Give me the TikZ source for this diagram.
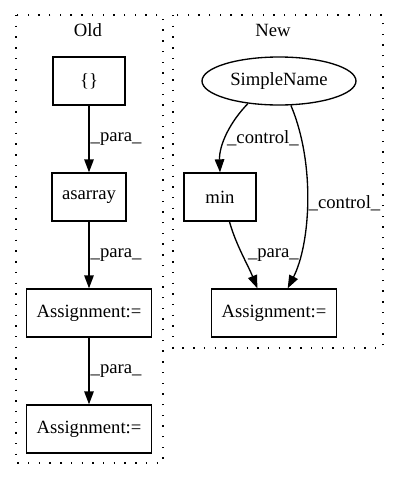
\documentclass[tikz,border=0pt]{standalone}
\usepackage{fontspec}
\setmainfont{Liberation Serif}
\usetikzlibrary{arrows.meta,shapes.geometric}
\begin{document}
\begin{tikzpicture}[
  x=1pt, y=-1pt,
  block/.style={rectangle, draw, minimum width=72pt, minimum height=48pt, inner xsep=10pt, line width=1.33pt},
  oval/.style={ellipse, draw, minimum width=154pt, minimum height=48pt, inner sep=0pt, line width=1.33pt},
  cluster/.style={draw, line width=1.33pt, dash pattern=on 1.4pt off 9.3pt},
  edge/.style={-{Triangle[length=13pt,width=9.5pt]}, line width=1.33pt},
  lbl/.style={anchor=west, inner sep=1pt},
  node distance=116pt,
  font=\fontsize{18.67}{22}\selectfont
]
\useasboundingbox (0,0) rectangle (400,480);

% clusters
\draw[cluster] (16,15) rectangle (163,463);
\draw[cluster] (173,15) rectangle (383,348);
\node (oldlbl) at (88,30) {Old};
\node (newlbl) at (273,30) {New};

% old
\node[block] (braces) at (89,81) {\{\}};
\node[block, below of=braces] (asarray) {asarray};
\node[block, below of=asarray] (asgA) {Assignment:=};
\node[block, below of=asgA] (asgB) {Assignment:=};

% new
\node[oval] (sname) at (279,81) {SimpleName};
\node[block] (min) at (220,197) {min};
\node[block] (asgN) at (274,313) {Assignment:=};

\draw[edge] (braces) -- node[lbl] {\_para\_} (asarray);
\draw[edge] (asarray) -- node[lbl] {\_para\_} (asgA);
\draw[edge] (asgA) -- node[lbl] {\_para\_} (asgB);

\draw[edge] (sname.216) .. controls (230,122) and (219,145) .. node[lbl, pos=0.55] {\_control\_} (min.north);
\draw[edge] (sname.296) .. controls (316,165) and (310,245) .. node[lbl, pos=0.5] {\_control\_} (asgN.61);
\draw[edge] (min.291) .. controls (236,245) and (248,265) .. node[lbl, pos=0.5, xshift=4pt] {\_para\_} (asgN.124);
\end{tikzpicture}
\end{document}
